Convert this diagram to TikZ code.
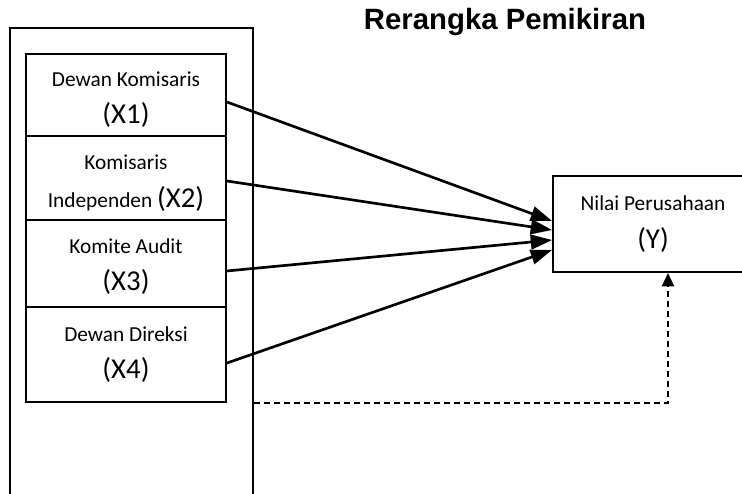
\documentclass[tikz,border=0pt]{standalone}
\usepackage{fontspec}
\setmainfont{Carlito}
\newfontfamily\titlefont{Liberation Sans}
\usetikzlibrary{arrows.meta}
\newcommand{\vlabel}[1]{{\fontsize{21.6}{28}\selectfont #1}}
\newcommand{\topgap}[1]{\rule{0pt}{#1}}
\begin{document}
\begin{tikzpicture}[x=0.75pt,y=-0.75pt]
  \tikzstyle{var}=[draw,line width=1.4pt,minimum width=150pt,align=center,inner sep=0pt,font=\fontsize{16}{28}\selectfont]
  \tikzstyle{line}=[line width=2pt,-{Triangle[length=16pt,width=11pt]}]
  \tikzstyle{dashline}=[line width=1.5pt,dash pattern=on 4.5pt off 3pt,-{Triangle[length=10pt,width=9pt]}]
  \useasboundingbox (0,0) rectangle (742,493);
  \clip (0,0) rectangle (742,493);
  % header
  \node[font=\titlefont\bfseries\fontsize{22}{26}\selectfont] (title) at (505,22) {Rerangka Pemikiran};
  % independent variables
  \node[draw,line width=1.4pt,minimum width=182.25pt,minimum height=384pt,inner sep=0pt] (group) at (131.5,284) {};
  \node[var,minimum height=61.5pt] (X1) at (126,95) {\topgap{18pt}Dewan Komisaris\\\vlabel{(X1)}};
  \node[var,minimum height=63pt] (X2) at (126,178) {\topgap{18.5pt}Komisaris\\Independen \vlabel{(X2)}};
  \node[var,minimum height=65.25pt] (X3) at (126,263.5) {\topgap{16pt}Komite Audit\\\vlabel{(X3)}};
  \node[var,minimum height=71.25pt] (X4) at (126,354.5) {Dewan Direksi\\\vlabel{(X4)}};
  % dependent variable
  \node[var,minimum height=72pt] (Y) at (653,224) {Nilai Perusahaan\\\vlabel{(Y)}};
  % arrows
  \draw[line] ([yshift=-5.25pt]X1.east) -- ([yshift=2.25pt]Y.west);
  \draw[line] ([yshift=-2.25pt]X2.east) -- ([yshift=-4.5pt]Y.west);
  \draw[line] ([yshift=-5.6pt]X3.east) -- ([yshift=-12pt]Y.west);
  \draw[line] ([yshift=-6.4pt]X4.east) -- ([yshift=-19.5pt]Y.west);
  \draw[dashline] (group.east |- X4.south) -| ([xshift=11.25pt]Y.south);
\end{tikzpicture}
\end{document}
